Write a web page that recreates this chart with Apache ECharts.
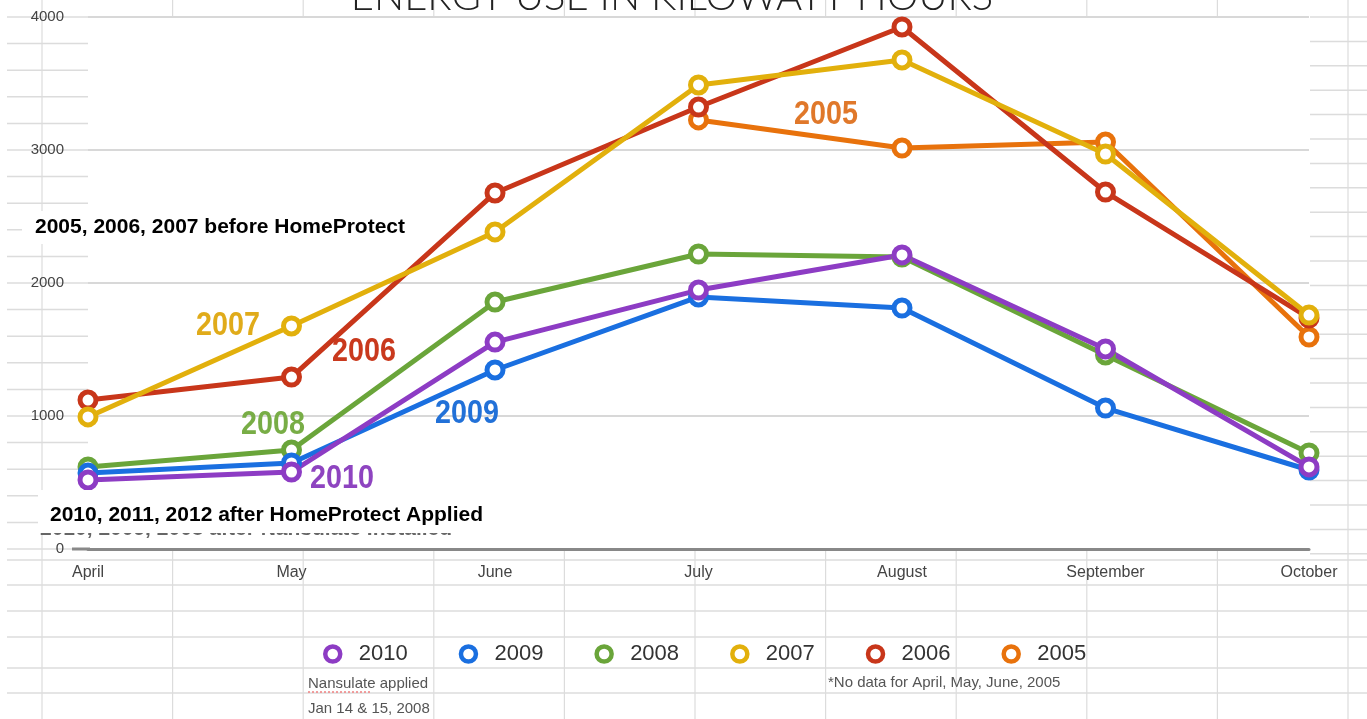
<!DOCTYPE html>
<html>
<head>
<meta charset="utf-8">
<title>Energy use in kilowatt hours</title>
<script src="https://cdn.jsdelivr.net/npm/echarts@6/dist/echarts.min.js"></script>
<style>
  html, body { margin: 0; padding: 0; background: #fff; }
  #chart { width: 1367px; height: 719px; }
</style>
</head>
<body>
<div id="chart"></div>
<script>
  // months on the x axis
  const months = ['April', 'May', 'June', 'July', 'August', 'September', 'October']
  // kWh per month
  const y2010 = [519, 579, 1556, 1947, 2211, 1504, 617]
  const y2009 = [571, 647, 1346, 1895, 1812, 1060, 594]
  const y2008 = [617, 744, 1857, 2218, 2195, 1459, 722]
  const y2007 = [993, 1677, 2384, 3489, 3677, 2970, 1759]
  const y2006 = [1120, 1293, 2677, 3323, 3925, 2684, 1737]
  const y2005 = [null, null, null, 3226, 3015, 3060, 1594]   // no data April-June
  const yTicks = [0, 1000, 2000, 3000, 4000]

  const colors = {
    '2010': '#8d3cc4',
    '2009': '#1a6fe0',
    '2008': '#6aa53a',
    '2007': '#e2b00c',
    '2006': '#c8361a',
    '2005': '#e8720c'
  }
  const legendOrder = ['2010', '2009', '2008', '2007', '2006', '2005']

  const chart = echarts.init(document.getElementById('chart'))

  // spreadsheet grid behind the chart
  const sheet = []
  const grey = '#dcdcdc'
  for (let x = 42; x < 1367; x += 130.6) {
    sheet.push({ type: 'line', z: -20, shape: { x1: x, y1: 0, x2: x, y2: 719 }, style: { stroke: grey, lineWidth: 1.2 } })
  }
  for (let y = 17; y < 560; y += 26.6) {
    sheet.push({ type: 'line', z: -20, shape: { x1: 7, y1: y, x2: 88, y2: y }, style: { stroke: grey, lineWidth: 1.5 } })
  }
  for (let y = 17; y < 560; y += 24.4) {
    sheet.push({ type: 'line', z: -20, shape: { x1: 1310, y1: y, x2: 1367, y2: y }, style: { stroke: grey, lineWidth: 1.5 } })
  }
  ;[560, 585, 611, 637, 668, 693].forEach(y => {
    sheet.push({ type: 'line', z: -20, shape: { x1: 7, y1: y, x2: 1367, y2: y }, style: { stroke: grey, lineWidth: 1.5 } })
  })
  // white plot area covering the sheet
  sheet.push({ type: 'rect', z: -10, shape: { x: 88, y: 17, width: 1222, height: 532 }, style: { fill: '#fff' } })

  const condensed = 'bold 33px "Liberation Sans", Arial, sans-serif'
  const yearLabel = (text, x, y, color) => ({
    type: 'text', z: 50, x: x, y: y, scaleX: 0.87,
    style: { text: text, font: condensed, fill: color, align: 'center', verticalAlign: 'middle' }
  })
  const bold = 'bold 21px "Liberation Sans", Arial, sans-serif'
  const small = '15px "Liberation Sans", Arial, sans-serif'

  const notes = [
    // title, cut off at the top edge
    { type: 'text', z: 50, x: 672, y: -3,
      style: { text: 'ENERGY USE IN KILOWATT HOURS', font: '300 40px Lato, "Open Sans", sans-serif', fill: '#222', align: 'center', verticalAlign: 'middle' } },
    // axis line stub left of April
    { type: 'line', z: 5, shape: { x1: 72, y1: 549, x2: 90, y2: 549 }, style: { stroke: '#888', lineWidth: 3 } },
    // old caption half hidden under the new one
    { type: 'text', z: 60, x: 40, y: 529,
      style: { text: '2010, 2009, 2008 after Nansulate Installed', font: bold, fill: '#666', align: 'left', verticalAlign: 'middle' } },
    { type: 'rect', z: 70, shape: { x: 38, y: 490, width: 462, height: 43 }, style: { fill: '#fff' } },
    { type: 'text', z: 80, x: 50, y: 515,
      style: { text: '2010, 2011, 2012 after HomeProtect Applied', font: bold, fill: '#000', align: 'left', verticalAlign: 'middle' } },
    { type: 'rect', z: 70, shape: { x: 22, y: 211, width: 398, height: 33 }, style: { fill: '#fff' } },
    { type: 'text', z: 80, x: 35, y: 227,
      style: { text: '2005, 2006, 2007 before HomeProtect', font: bold, fill: '#000', align: 'left', verticalAlign: 'middle' } },
    yearLabel('2007', 228, 326, '#e0ab1a'),
    yearLabel('2006', 364, 352, '#c9391d'),
    yearLabel('2008', 273, 425, '#78ad46'),
    yearLabel('2009', 467, 414, '#2271d8'),
    yearLabel('2010', 342, 479, '#8e44c0'),
    yearLabel('2005', 826, 115, '#e0782a'),
    // notes under the legend
    { type: 'text', z: 50, x: 308, y: 684,
      style: { text: 'Nansulate applied', font: small, fill: '#555', align: 'left', verticalAlign: 'middle' } },
    { type: 'line', z: 50, shape: { x1: 308, y1: 692, x2: 372, y2: 692 }, style: { stroke: '#f08080', lineWidth: 1.5, lineDash: [2, 2] } },
    { type: 'text', z: 50, x: 308, y: 709,
      style: { text: 'Jan 14 & 15, 2008', font: small, fill: '#555', align: 'left', verticalAlign: 'middle' } },
    { type: 'text', z: 50, x: 828, y: 683,
      style: { text: '*No data for April, May, June, 2005', font: small, fill: '#555', align: 'left', verticalAlign: 'middle' } }
  ]

  const makeSeries = (name, data) => ({
    name: name,
    type: 'line',
    data: data,
    symbol: 'circle',
    symbolSize: 16,
    showAllSymbol: true,
    connectNulls: false,
    color: colors[name],
    lineStyle: { width: 5, color: colors[name] },
    itemStyle: { color: '#fff', borderColor: colors[name], borderWidth: 5 },
    emphasis: { disabled: true }
  })

  const option = {
    backgroundColor: '#fff',
    animation: false,
    graphic: sheet.concat(notes),
    legend: {
      left: 323,
      top: 643,
      padding: 0,
      itemGap: 51,
      itemWidth: 42,
      itemHeight: 15,
      icon: 'circle',
      textStyle: { fontSize: 22, color: '#333', fontFamily: '"Liberation Sans", Arial, sans-serif' },
      data: legendOrder.map(n => ({
        name: n,
        itemStyle: { color: '#fff', borderColor: colors[n], borderWidth: 4.5 }
      }))
    },
    grid: { left: 88, right: 58, top: 17, bottom: 170 },
    xAxis: {
      type: 'category',
      data: months,
      boundaryGap: false,
      axisLine: { lineStyle: { color: '#888', width: 3 } },
      axisTick: { show: false },
      axisLabel: { color: '#444', fontSize: 16, margin: 16, fontFamily: '"Liberation Sans", Arial, sans-serif' },
      splitLine: { show: false }
    },
    yAxis: {
      type: 'value',
      min: yTicks[0],
      max: yTicks[yTicks.length - 1],
      interval: 1000,
      axisLine: { show: false },
      axisTick: { show: false },
      axisLabel: { color: '#444', fontSize: 15, margin: 24, formatter: v => String(v), fontFamily: '"Liberation Sans", Arial, sans-serif' },
      splitLine: { lineStyle: { color: '#d8d8d8', width: 2 } }
    },
    series: [
      makeSeries('2005', y2005),
      makeSeries('2006', y2006),
      makeSeries('2007', y2007),
      makeSeries('2008', y2008),
      makeSeries('2009', y2009),
      makeSeries('2010', y2010)
    ]
  }

  chart.setOption(option)
</script>
</body>
</html>
